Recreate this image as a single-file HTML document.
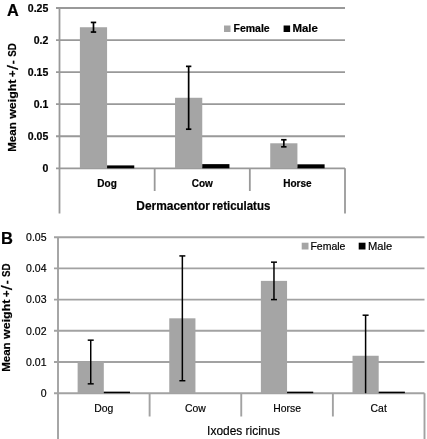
<!DOCTYPE html>
<html><head><meta charset="utf-8"><style>
html,body{margin:0;padding:0;background:#fff;width:427px;height:439px;overflow:hidden}
svg{display:block;will-change:transform;font-family:"Liberation Sans",sans-serif;fill:#000}
</style></head><body>
<svg width="427" height="439" viewBox="0 0 427 439">
<rect width="427" height="439" fill="#fff"/>
<line x1="56.00" y1="136.24" x2="345.00" y2="136.24" stroke="#999999" stroke-width="1.8"/>
<line x1="56.00" y1="104.18" x2="345.00" y2="104.18" stroke="#999999" stroke-width="1.8"/>
<line x1="56.00" y1="72.12" x2="345.00" y2="72.12" stroke="#999999" stroke-width="1.8"/>
<line x1="56.00" y1="40.06" x2="345.00" y2="40.06" stroke="#999999" stroke-width="1.8"/>
<line x1="56.00" y1="8.00" x2="345.00" y2="8.00" stroke="#999999" stroke-width="1.8"/>
<line x1="59.50" y1="8.00" x2="59.50" y2="213.50" stroke="#999999" stroke-width="1.8"/>
<line x1="56.00" y1="168.30" x2="345.00" y2="168.30" stroke="#999999" stroke-width="1.8"/>
<line x1="154.67" y1="168.30" x2="154.67" y2="191.00" stroke="#999999" stroke-width="1.8"/>
<line x1="249.83" y1="168.30" x2="249.83" y2="191.00" stroke="#999999" stroke-width="1.8"/>
<line x1="345.00" y1="168.30" x2="345.00" y2="213.50" stroke="#999999" stroke-width="1.8"/>
<rect x="79.89" y="27.24" width="27.19" height="141.06" fill="#a5a5a5"/>
<rect x="107.08" y="165.41" width="27.19" height="2.89" fill="#000000"/>
<line x1="93.49" y1="22.43" x2="93.49" y2="32.05" stroke="#000" stroke-width="1.7"/>
<line x1="90.79" y1="22.43" x2="96.19" y2="22.43" stroke="#000" stroke-width="1.7"/>
<line x1="90.79" y1="32.05" x2="96.19" y2="32.05" stroke="#000" stroke-width="1.7"/>
<text x="107.08" y="187.10" font-size="10" font-weight="bold" text-anchor="middle" stroke="#000" stroke-width="0.2" >Dog</text>
<rect x="175.06" y="97.77" width="27.19" height="70.53" fill="#a5a5a5"/>
<rect x="202.25" y="164.13" width="27.19" height="4.17" fill="#000000"/>
<line x1="188.65" y1="66.35" x2="188.65" y2="129.19" stroke="#000" stroke-width="1.7"/>
<line x1="185.95" y1="66.35" x2="191.35" y2="66.35" stroke="#000" stroke-width="1.7"/>
<line x1="185.95" y1="129.19" x2="191.35" y2="129.19" stroke="#000" stroke-width="1.7"/>
<text x="202.25" y="187.10" font-size="10" font-weight="bold" text-anchor="middle" stroke="#000" stroke-width="0.2" >Cow</text>
<rect x="270.23" y="143.29" width="27.19" height="25.01" fill="#a5a5a5"/>
<rect x="297.42" y="164.32" width="27.19" height="3.98" fill="#000000"/>
<line x1="283.82" y1="139.77" x2="283.82" y2="146.82" stroke="#000" stroke-width="1.7"/>
<line x1="281.12" y1="139.77" x2="286.52" y2="139.77" stroke="#000" stroke-width="1.7"/>
<line x1="281.12" y1="146.82" x2="286.52" y2="146.82" stroke="#000" stroke-width="1.7"/>
<text x="297.42" y="187.10" font-size="10" font-weight="bold" text-anchor="middle" stroke="#000" stroke-width="0.2" >Horse</text>
<text x="48.30" y="172.06" font-size="10.5" font-weight="bold" text-anchor="end" stroke="#000" stroke-width="0.2" >0</text>
<text x="48.30" y="140.00" font-size="10.5" font-weight="bold" text-anchor="end" stroke="#000" stroke-width="0.2" >0.05</text>
<text x="48.30" y="107.94" font-size="10.5" font-weight="bold" text-anchor="end" stroke="#000" stroke-width="0.2" >0.1</text>
<text x="48.30" y="75.88" font-size="10.5" font-weight="bold" text-anchor="end" stroke="#000" stroke-width="0.2" >0.15</text>
<text x="48.30" y="43.82" font-size="10.5" font-weight="bold" text-anchor="end" stroke="#000" stroke-width="0.2" >0.2</text>
<text x="48.30" y="11.76" font-size="10.5" font-weight="bold" text-anchor="end" stroke="#000" stroke-width="0.2" >0.25</text>
<text x="136.30" y="209.90" font-size="12.2" font-weight="bold" text-anchor="start" stroke="#000" stroke-width="0.2" textLength="73.6" lengthAdjust="spacingAndGlyphs">Dermacentor</text>
<text x="212.30" y="209.90" font-size="12.2" font-weight="bold" text-anchor="start" stroke="#000" stroke-width="0.2" textLength="58.0" lengthAdjust="spacingAndGlyphs">reticulatus</text>
<text transform="translate(16.00,137.00) rotate(-90)" font-size="11.7" font-weight="bold" text-anchor="middle" stroke="#000" stroke-width="0.2" textLength="29.5" lengthAdjust="spacingAndGlyphs">Mean</text>
<text transform="translate(16.00,99.15) rotate(-90)" font-size="11.7" font-weight="bold" text-anchor="middle" stroke="#000" stroke-width="0.2" textLength="39.3" lengthAdjust="spacingAndGlyphs">weight</text>
<text transform="translate(16.00,73.75) rotate(-90)" font-size="11.7" font-weight="bold" text-anchor="middle" stroke="#000" stroke-width="0.2">+</text>
<text transform="translate(17.80,67.55) rotate(-90)" font-size="15.5" font-weight="normal" text-anchor="middle" stroke="#000" stroke-width="0.2" textLength="5.0" lengthAdjust="spacingAndGlyphs">/</text>
<text transform="translate(16.00,62.20) rotate(-90)" font-size="11.7" font-weight="bold" text-anchor="middle" stroke="#000" stroke-width="0.2">-</text>
<text transform="translate(16.00,50.10) rotate(-90)" font-size="11.7" font-weight="bold" text-anchor="middle" stroke="#000" stroke-width="0.2" textLength="13.4" lengthAdjust="spacingAndGlyphs">SD</text>
<text x="6.90" y="15.80" font-size="16.3" font-weight="bold" text-anchor="start" stroke="#000" stroke-width="0.2" >A</text>
<rect x="224.00" y="25.50" width="6.50" height="6.50" fill="#a5a5a5"/>
<text x="233.50" y="31.80" font-size="10.5" font-weight="bold" text-anchor="start" stroke="#000" stroke-width="0.2" >Female</text>
<rect x="283.60" y="25.50" width="6.50" height="6.50" fill="#000000"/>
<text x="292.40" y="31.80" font-size="10.5" font-weight="bold" text-anchor="start" stroke="#000" stroke-width="0.2" textLength="25.4" lengthAdjust="spacingAndGlyphs">Male</text>
<line x1="54.00" y1="362.00" x2="424.50" y2="362.00" stroke="#a2a2a2" stroke-width="1.9"/>
<line x1="54.00" y1="330.80" x2="424.50" y2="330.80" stroke="#a2a2a2" stroke-width="1.9"/>
<line x1="54.00" y1="299.60" x2="424.50" y2="299.60" stroke="#a2a2a2" stroke-width="1.9"/>
<line x1="54.00" y1="268.40" x2="424.50" y2="268.40" stroke="#a2a2a2" stroke-width="1.9"/>
<line x1="54.00" y1="237.20" x2="424.50" y2="237.20" stroke="#a2a2a2" stroke-width="1.9"/>
<line x1="58.00" y1="237.20" x2="58.00" y2="439.00" stroke="#a2a2a2" stroke-width="1.9"/>
<line x1="54.00" y1="393.20" x2="424.50" y2="393.20" stroke="#a2a2a2" stroke-width="1.9"/>
<line x1="149.62" y1="393.20" x2="149.62" y2="416.50" stroke="#a2a2a2" stroke-width="1.9"/>
<line x1="241.25" y1="393.20" x2="241.25" y2="416.50" stroke="#a2a2a2" stroke-width="1.9"/>
<line x1="332.88" y1="393.20" x2="332.88" y2="416.50" stroke="#a2a2a2" stroke-width="1.9"/>
<line x1="424.50" y1="393.20" x2="424.50" y2="439.00" stroke="#a2a2a2" stroke-width="1.9"/>
<rect x="77.63" y="362.00" width="26.18" height="31.20" fill="#a5a5a5"/>
<rect x="103.81" y="391.64" width="26.18" height="1.56" fill="#000000"/>
<line x1="90.72" y1="340.16" x2="90.72" y2="383.84" stroke="#000" stroke-width="1.5"/>
<line x1="87.72" y1="340.16" x2="93.72" y2="340.16" stroke="#000" stroke-width="1.5"/>
<line x1="87.72" y1="383.84" x2="93.72" y2="383.84" stroke="#000" stroke-width="1.5"/>
<text x="103.81" y="411.90" font-size="10.4" font-weight="normal" text-anchor="middle" stroke="#000" stroke-width="0.18" >Dog</text>
<rect x="169.26" y="318.32" width="26.18" height="74.88" fill="#a5a5a5"/>
<line x1="182.35" y1="255.92" x2="182.35" y2="380.72" stroke="#000" stroke-width="1.5"/>
<line x1="179.35" y1="255.92" x2="185.35" y2="255.92" stroke="#000" stroke-width="1.5"/>
<line x1="179.35" y1="380.72" x2="185.35" y2="380.72" stroke="#000" stroke-width="1.5"/>
<text x="195.44" y="411.90" font-size="10.4" font-weight="normal" text-anchor="middle" stroke="#000" stroke-width="0.18" >Cow</text>
<rect x="260.88" y="280.88" width="26.18" height="112.32" fill="#a5a5a5"/>
<rect x="287.06" y="391.64" width="26.18" height="1.56" fill="#000000"/>
<line x1="273.97" y1="262.16" x2="273.97" y2="299.60" stroke="#000" stroke-width="1.5"/>
<line x1="270.97" y1="262.16" x2="276.97" y2="262.16" stroke="#000" stroke-width="1.5"/>
<line x1="270.97" y1="299.60" x2="276.97" y2="299.60" stroke="#000" stroke-width="1.5"/>
<text x="287.06" y="411.90" font-size="10.4" font-weight="normal" text-anchor="middle" stroke="#000" stroke-width="0.18" >Horse</text>
<rect x="352.51" y="355.76" width="26.18" height="37.44" fill="#a5a5a5"/>
<rect x="378.69" y="391.64" width="26.18" height="1.56" fill="#000000"/>
<line x1="365.60" y1="315.20" x2="365.60" y2="393.20" stroke="#000" stroke-width="1.5"/>
<line x1="362.60" y1="315.20" x2="368.60" y2="315.20" stroke="#000" stroke-width="1.5"/>
<text x="378.69" y="411.90" font-size="10.4" font-weight="normal" text-anchor="middle" stroke="#000" stroke-width="0.18" >Cat</text>
<text x="46.50" y="396.96" font-size="10.5" font-weight="normal" text-anchor="end" stroke="#000" stroke-width="0.18" >0</text>
<text x="46.50" y="365.76" font-size="10.5" font-weight="normal" text-anchor="end" stroke="#000" stroke-width="0.18" >0.01</text>
<text x="46.50" y="334.56" font-size="10.5" font-weight="normal" text-anchor="end" stroke="#000" stroke-width="0.18" >0.02</text>
<text x="46.50" y="303.36" font-size="10.5" font-weight="normal" text-anchor="end" stroke="#000" stroke-width="0.18" >0.03</text>
<text x="46.50" y="272.16" font-size="10.5" font-weight="normal" text-anchor="end" stroke="#000" stroke-width="0.18" >0.04</text>
<text x="46.50" y="240.96" font-size="10.5" font-weight="normal" text-anchor="end" stroke="#000" stroke-width="0.18" >0.05</text>
<text x="243.60" y="434.90" font-size="12.3" font-weight="normal" text-anchor="middle" stroke="#000" stroke-width="0.18" textLength="73" lengthAdjust="spacingAndGlyphs">Ixodes ricinus</text>
<text transform="translate(10.40,357.10) rotate(-90)" font-size="11.7" font-weight="bold" text-anchor="middle" stroke="#000" stroke-width="0.2" textLength="29.5" lengthAdjust="spacingAndGlyphs">Mean</text>
<text transform="translate(10.40,319.25) rotate(-90)" font-size="11.7" font-weight="bold" text-anchor="middle" stroke="#000" stroke-width="0.2" textLength="39.3" lengthAdjust="spacingAndGlyphs">weight</text>
<text transform="translate(10.40,293.85) rotate(-90)" font-size="11.7" font-weight="bold" text-anchor="middle" stroke="#000" stroke-width="0.2">+</text>
<text transform="translate(12.20,287.65) rotate(-90)" font-size="15.5" font-weight="normal" text-anchor="middle" stroke="#000" stroke-width="0.2" textLength="5.0" lengthAdjust="spacingAndGlyphs">/</text>
<text transform="translate(10.40,282.30) rotate(-90)" font-size="11.7" font-weight="bold" text-anchor="middle" stroke="#000" stroke-width="0.2">-</text>
<text transform="translate(10.40,270.20) rotate(-90)" font-size="11.7" font-weight="bold" text-anchor="middle" stroke="#000" stroke-width="0.2" textLength="13.4" lengthAdjust="spacingAndGlyphs">SD</text>
<text x="0.90" y="243.50" font-size="16.5" font-weight="bold" text-anchor="start" stroke="#000" stroke-width="0.2" >B</text>
<rect x="301.70" y="242.70" width="6.80" height="6.80" fill="#a5a5a5"/>
<text x="310.40" y="249.75" font-size="10.5" font-weight="normal" text-anchor="start" stroke="#000" stroke-width="0.18" >Female</text>
<rect x="358.70" y="242.70" width="6.80" height="6.80" fill="#000000"/>
<text x="368.00" y="249.75" font-size="10.5" font-weight="normal" text-anchor="start" stroke="#000" stroke-width="0.18" textLength="24.2" lengthAdjust="spacingAndGlyphs">Male</text>
</svg>
</body></html>
